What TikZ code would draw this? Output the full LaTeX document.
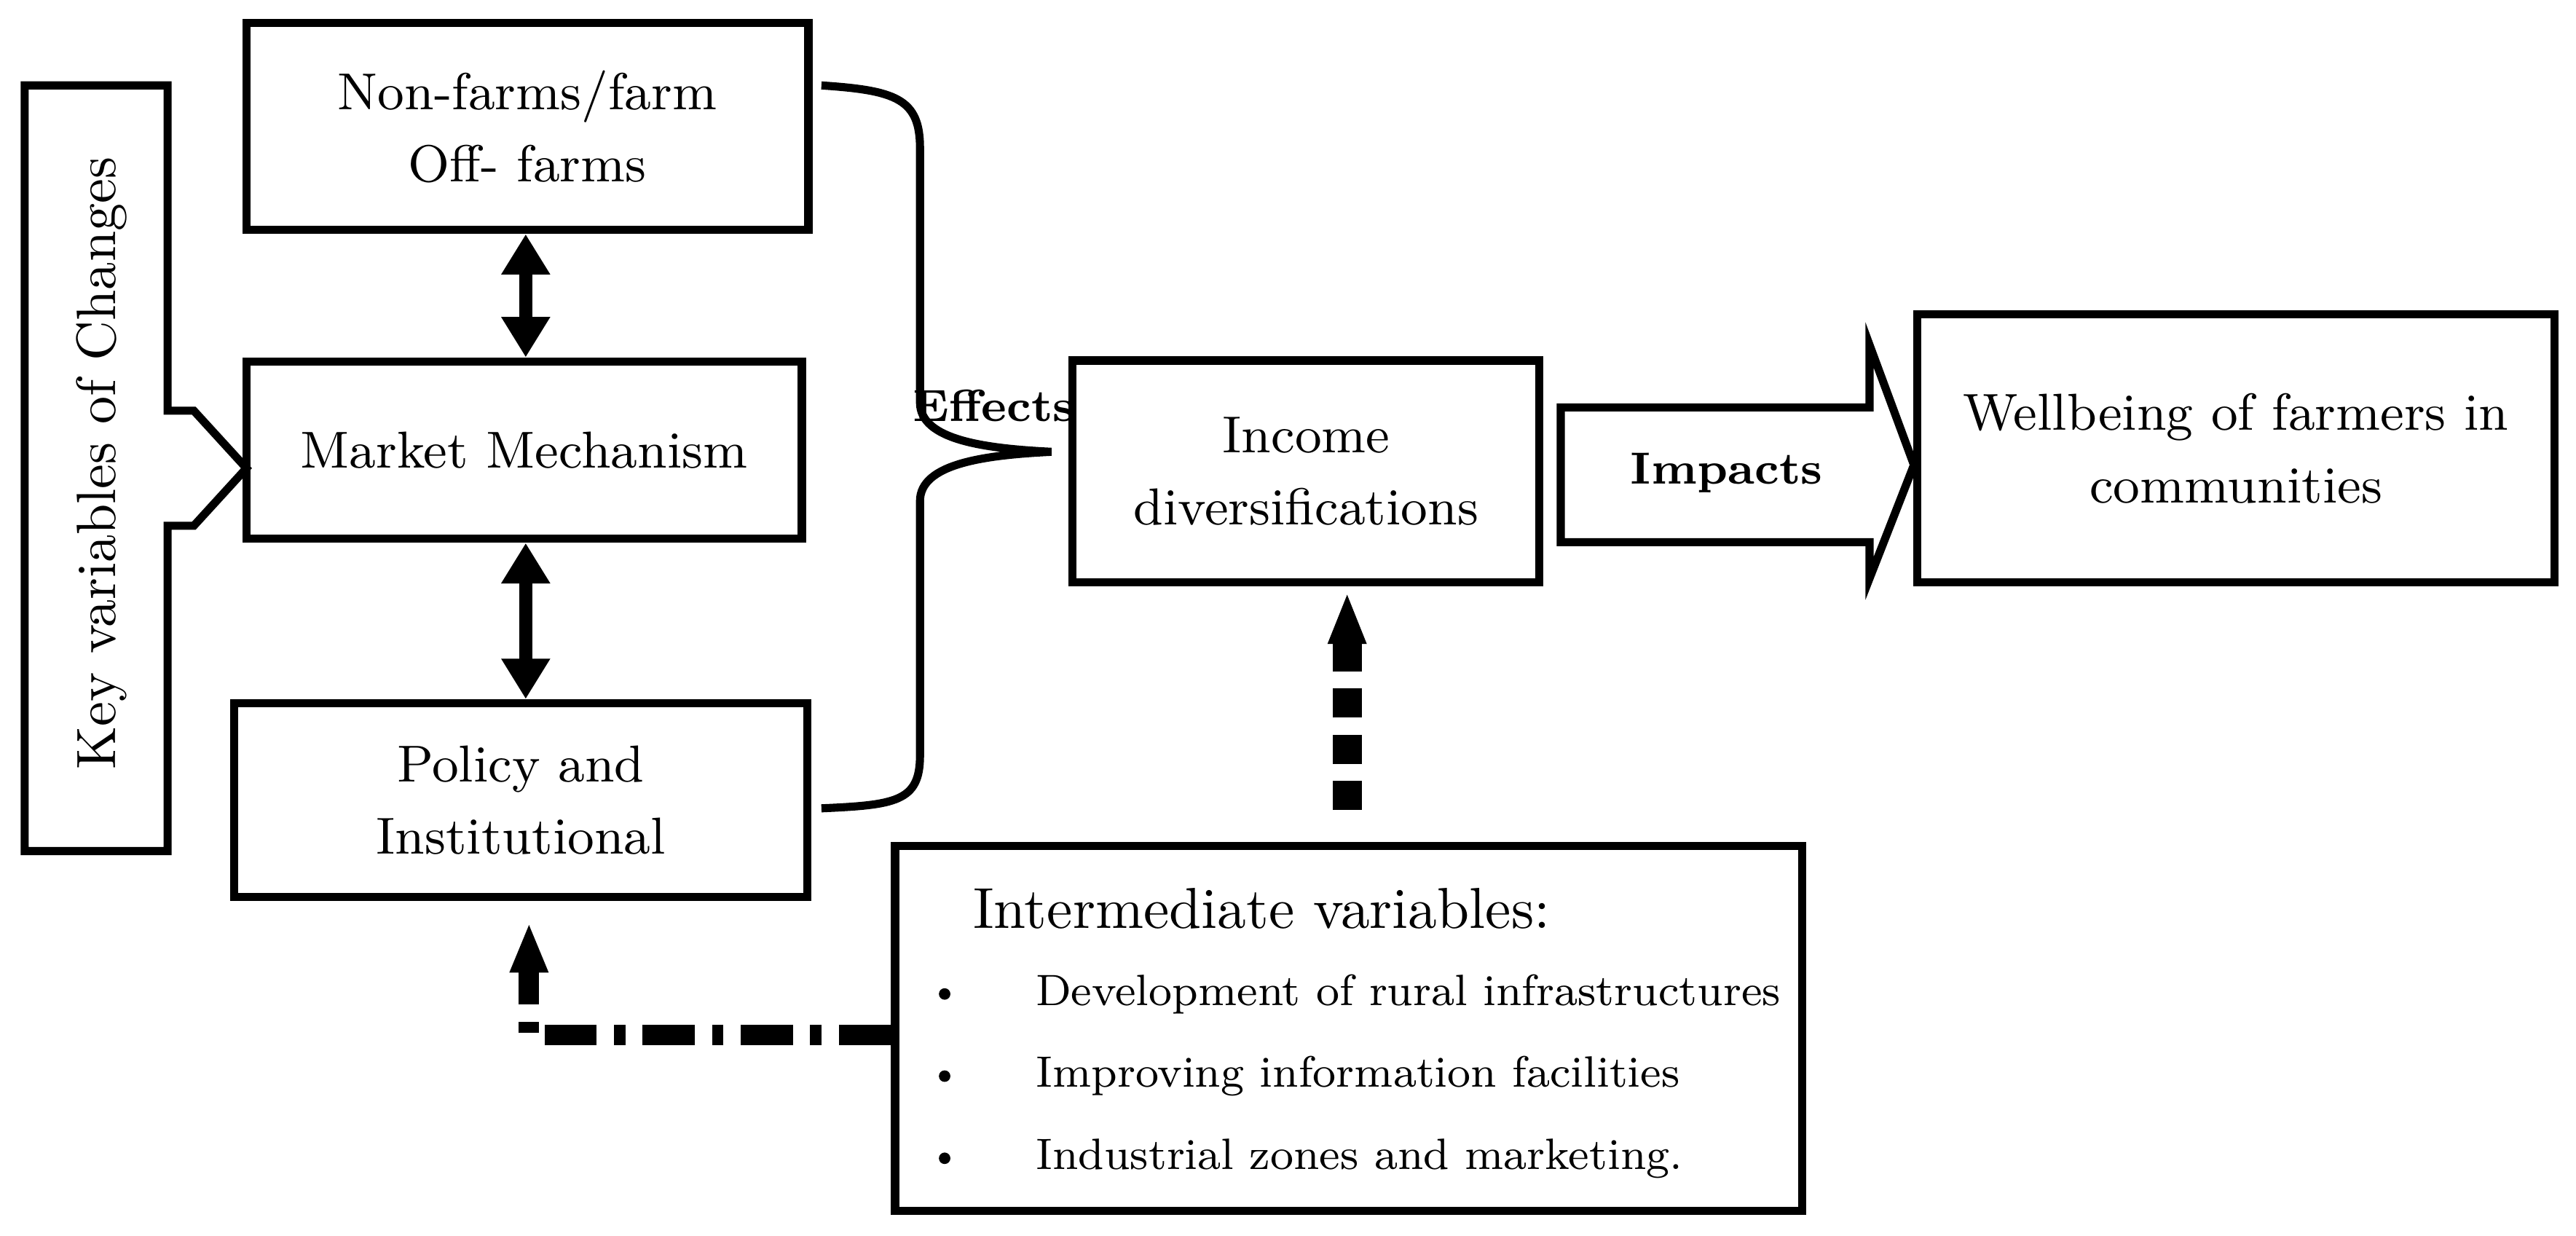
\documentclass[tikz,border=0pt]{standalone}
\usetikzlibrary{arrows.meta}
\begin{document}
\begin{tikzpicture}[x=0.01cm,y=-0.01cm,
  box/.style={draw,line width=1.4pt,align=center,font=\fontsize{9}{12.5}\selectfont,inner sep=0pt},
  lbl/.style={font=\fontsize{9}{12}\selectfont},
  dbl/.style={line width=2.2pt,{Triangle[length=7pt,width=8pt]}-{Triangle[length=7pt,width=8pt]}}]
\useasboundingbox (0,0) rectangle (1568,752);
% key variables
\draw[line width=1.4pt] (15,52) -- (102,52) -- (102,250) -- (118,250) -- (150,285) -- (118,320) -- (102,320) -- (102,518) -- (15,518) -- cycle;
\node[lbl,rotate=90,font=\fontsize{9.6}{12}\selectfont] (key) at (62,282) {Key variables of Changes};
\node[box,minimum width=3.42cm,minimum height=1.26cm] (b1) at (321,77) {Non-farms/farm\\Off- farms};
\node[box,minimum width=3.38cm,minimum height=1.08cm] (b2) at (319,274) {Market Mechanism};
\node[box,minimum width=3.49cm,minimum height=1.18cm] (b3) at (317,487) {Policy and\\Institutional};
\draw[dbl] (b1.south -| 320,0) -- (b2.north -| 320,0);
\draw[dbl] (b2.south -| 320,0) -- (b3.north -| 320,0);
% brace
\draw[line width=1.4pt] (500,52) .. controls (545,55) and (560,60) .. (560,90) -- (560,245) .. controls (560,268) and (600,273) .. (640,275)
 .. controls (600,277) and (560,282) .. (560,305) -- (560,460) .. controls (560,488) and (545,490) .. (500,492);
\node[lbl,font=\bfseries\fontsize{7.8}{10}\selectfont] (eff) at (605,247) {Effects};
\node[box,minimum width=2.84cm,minimum height=1.35cm] (inc) at (795,287) {Income\\diversifications};
% big arrow
\draw[line width=1.4pt] (950,248) -- (1138,248) -- (1138,210) -- (1165,283) -- (1138,352) -- (1138,330) -- (950,330) -- cycle;
\node[lbl,font=\bfseries\fontsize{7.8}{10}\selectfont] (imp) at (1051,288) {Impacts};
\node[box,minimum width=3.88cm,minimum height=1.63cm] (well) at (1361,273) {Wellbeing of farmers in\\communities};
% intermediate
\node[box,minimum width=5.52cm,minimum height=2.22cm] (int) at (821,626) {};
\node[lbl,anchor=west,font=\fontsize{10}{12}\selectfont] (t0) at (580,553) {Intermediate variables:};
\foreach \y/\t [count=\i] in {605/Development of rural infrastructures,655/Improving information facilities,705/Industrial zones and marketing.}{
  \fill (575,\y) circle (3.5);
  \node[lbl,anchor=west,font=\fontsize{7.6}{10}\selectfont] (t\i) at (618,\y) {\t};
}
% dotted arrow
\draw[line width=5pt,dash pattern=on 5pt off 3pt] (820,493) -- (820,390);
\fill (820,362) -- (808,392) -- (832,392) -- cycle;
% dash-dot
\draw[line width=3.5pt,dash pattern=on 9pt off 3pt on 2pt off 3pt] (int.west |- 0,630) -- (322,630) -- (322,592);
\fill (322,563) -- (310,592) -- (334,592) -- cycle;
\end{tikzpicture}
\end{document}
